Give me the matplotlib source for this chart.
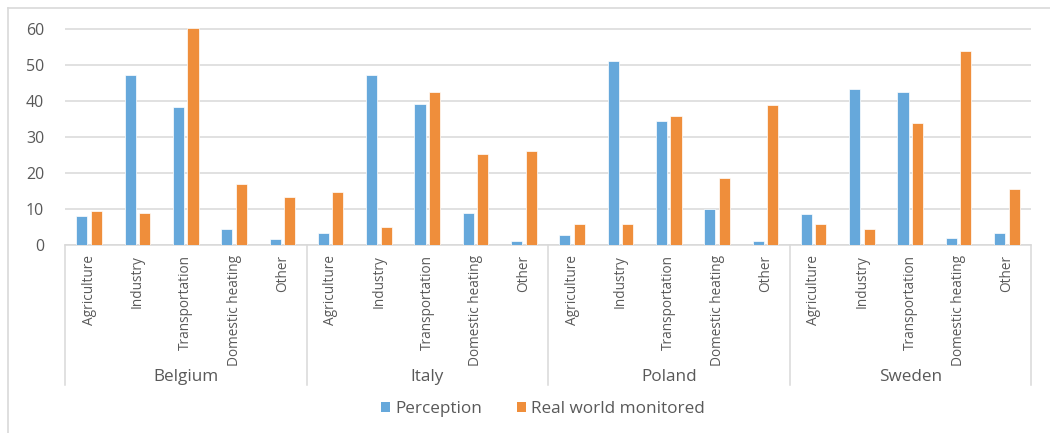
import matplotlib
matplotlib.use("Agg")
import matplotlib.pyplot as plt
import matplotlib.transforms as mtransforms
from matplotlib.patches import Patch
from matplotlib.lines import Line2D
import numpy as np

countries = ["Belgium", "Italy", "Poland", "Sweden"]
sectors = ["Agriculture", "Industry", "Transportation", "Domestic heating", "Other"]

perception = [
    8.1, 47.2, 38.4, 4.5, 1.6,    # Belgium
    3.2, 47.2, 39.3, 9.0, 1.0,    # Italy
    2.8, 51.2, 34.4, 9.9, 1.0,    # Poland
    8.5, 43.2, 42.4, 1.9, 3.2,    # Sweden
]
real_world = [
    9.4, 9.0, 60.4, 16.9, 13.3,
    14.6, 4.9, 42.4, 25.3, 26.1,
    5.8, 5.8, 35.8, 18.6, 38.9,
    5.8, 4.5, 34.0, 53.8, 15.6,
]
y_ticks = [0, 10, 20, 30, 40, 50, 60]

BLUE = "#66A8DB"
ORANGE = "#EF8E3B"
GRID = "#D9D9D9"
TEXT = "#595959"

plt.rcParams["font.family"] = ["Open Sans", "DejaVu Sans"]

W, H = 1050, 433
fig = plt.figure(figsize=(W / 100, H / 100), dpi=100)

# axes box in pixel units: x 65..1031, y(0)=245, top at 20
left, right = 65, 1031
y0_px, top_px = 245, 20
ax = fig.add_axes([left / W, 1 - y0_px / H, (right - left) / W, (y0_px - top_px) / H])

n = len(perception)
x = np.arange(n)
bw = 0.23
off = 0.15
ax.bar(x - off, perception, bw, color=BLUE, edgecolor="white", linewidth=0.5, zorder=3)
ax.bar(x + off, real_world, bw, color=ORANGE, edgecolor="white", linewidth=0.5, zorder=3)

ax.set_xlim(-0.5, n - 0.5)
ax.set_ylim(0, 62.5)
ax.set_yticks(y_ticks)
ax.yaxis.grid(True, color=GRID, linewidth=1.1, zorder=0)
ax.set_axisbelow(True)
for s in ["top", "right", "left"]:
    ax.spines[s].set_visible(False)
ax.spines["bottom"].set_color(GRID)
ax.spines["bottom"].set_linewidth(1.1)
ax.tick_params(axis="y", length=0, pad=15, labelsize=11.5, labelcolor=TEXT)

ax.set_xticks(x)
ax.set_xticklabels(sectors * len(countries), rotation=90, fontsize=9.8, color=TEXT, va="top")
ax.tick_params(axis="x", length=0, pad=7)

# group separators of the two-level category axis
trans = mtransforms.blended_transform_factory(ax.transData, fig.transFigure)
for b in np.arange(len(countries) + 1) * len(sectors) - 0.5:
    fig.add_artist(Line2D([b, b], [1 - y0_px / H, 1 - 385 / H], transform=trans,
                          color=GRID, linewidth=1.1))

for i, c in enumerate(countries):
    xc = i * len(sectors) + (len(sectors) - 1) / 2
    fig.text(xc, 1 - 377 / H, c, transform=trans, ha="center", va="center",
             fontsize=12.3, color=TEXT)

handles = [Patch(facecolor=BLUE, edgecolor="none"), Patch(facecolor=ORANGE, edgecolor="none")]
fig.legend(handles, ["Perception", "Real world monitored"], loc="center",
           bbox_to_anchor=(543 / W, 1 - 409 / H), ncol=2, frameon=False,
           handlelength=0.55, handleheight=0.55, handletextpad=0.3, columnspacing=2.0,
           prop={"size": 12.3}, labelcolor=TEXT)

# outer chart frame (left and top edges)
fig.add_artist(Line2D([8 / W, 8 / W], [0, 1 - 8 / H], transform=fig.transFigure,
                      color=GRID, linewidth=1.2))
fig.add_artist(Line2D([8 / W, 1], [1 - 8 / H, 1 - 8 / H], transform=fig.transFigure,
                      color=GRID, linewidth=1.2))

fig.savefig("out.png", dpi=100, facecolor="white")
